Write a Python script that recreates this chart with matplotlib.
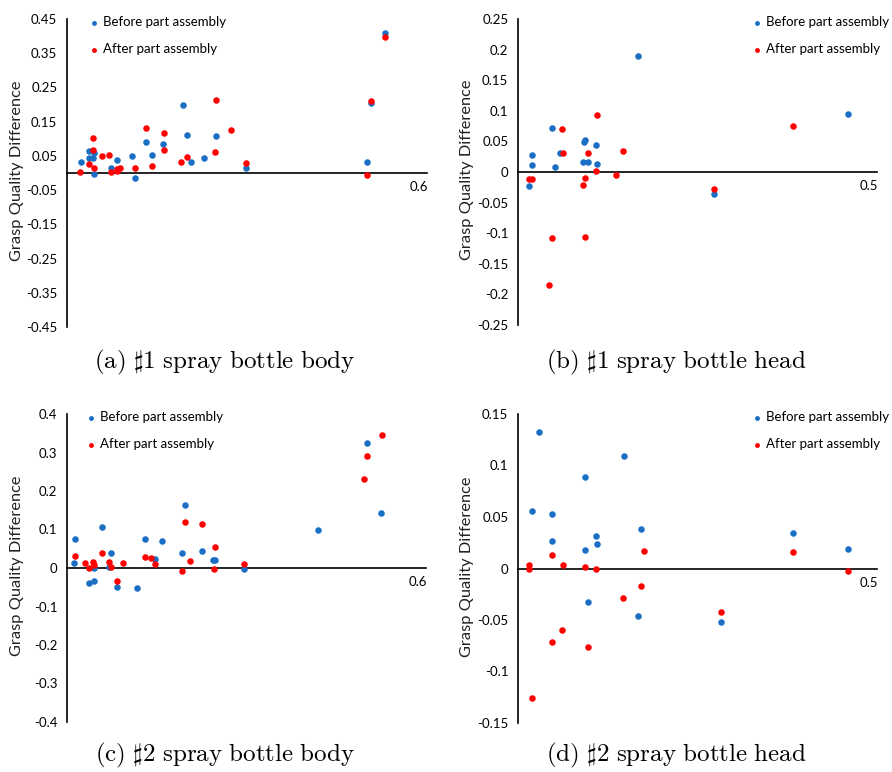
import matplotlib
matplotlib.use("Agg")
import matplotlib.pyplot as plt
import numpy as np

plt.rcParams['font.family'] = ['Lato', 'DejaVu Sans']
plt.rcParams['mathtext.fontset'] = 'cm'

BLUE = '#1a6fc4'
RED = '#ff0000'

# (a) #1 spray bottle body
a_before_x = [0.023, 0.037, 0.037, 0.044, 0.045, 0.045, 0.073, 0.084, 0.109, 0.114, 0.132, 0.142,
              0.160, 0.194, 0.200, 0.207, 0.228, 0.248, 0.298, 0.500, 0.507, 0.530]
a_before_y = [0.033, 0.063, 0.045, 0.045, 0.058, -0.003, 0.015, 0.039, 0.050, -0.014, 0.092, 0.052,
              0.084, 0.198, 0.111, 0.033, 0.045, 0.107, 0.015, 0.033, 0.205, 0.408]
a_after_x = [0.021, 0.036, 0.044, 0.044, 0.045, 0.058, 0.070, 0.073, 0.084, 0.084, 0.088, 0.114, 0.132,
             0.142, 0.161, 0.161, 0.190, 0.200, 0.247, 0.248, 0.273, 0.298, 0.500, 0.506, 0.530]
a_after_y = [0.004, 0.026, 0.103, 0.067, 0.014, 0.049, 0.052, 0.004, 0.012, 0.005, 0.015, 0.016, 0.132,
             0.020, 0.116, 0.066, 0.033, 0.046, 0.061, 0.213, 0.126, 0.030, -0.007, 0.211, 0.396]

# (b) #1 spray bottle head
b_before_x = [0.015, 0.019, 0.020, 0.047, 0.051, 0.059, 0.090, 0.092, 0.094, 0.097, 0.108, 0.110,
              0.167, 0.273, 0.460]
b_before_y = [-0.023, 0.012, 0.027, 0.072, 0.008, 0.031, 0.016, 0.049, 0.052, 0.016, 0.044, 0.013,
              0.189, -0.036, 0.095]
b_after_x = [0.015, 0.019, 0.043, 0.047, 0.061, 0.062, 0.090, 0.093, 0.094, 0.097, 0.108, 0.110,
             0.137, 0.146, 0.273, 0.383]
b_after_y = [-0.011, -0.011, -0.185, -0.108, 0.071, 0.031, -0.021, -0.010, -0.106, 0.031, 0.001, 0.093,
             -0.005, 0.035, -0.028, 0.075]

# (c) #2 spray bottle body
c_before_x = [0.011, 0.013, 0.036, 0.045, 0.045, 0.059, 0.071, 0.073, 0.084, 0.117, 0.131, 0.147,
              0.159, 0.193, 0.198, 0.226, 0.244, 0.247, 0.295, 0.420, 0.502, 0.525]
c_before_y = [0.014, 0.076, -0.040, -0.035, 0.000, 0.107, 0.002, 0.039, -0.049, -0.052, 0.076, 0.023,
              0.071, 0.038, 0.164, 0.044, 0.020, 0.020, -0.003, 0.098, 0.325, 0.143]
c_after_x = [0.013, 0.030, 0.037, 0.044, 0.045, 0.059, 0.070, 0.073, 0.084, 0.094, 0.131, 0.141,
             0.147, 0.193, 0.198, 0.205, 0.226, 0.245, 0.247, 0.295, 0.496, 0.502, 0.526]
c_after_y = [0.030, 0.014, 0.000, 0.016, 0.009, 0.038, 0.015, 0.002, -0.033, 0.012, 0.028, 0.025,
             0.011, -0.009, 0.120, 0.017, 0.115, -0.003, 0.055, 0.011, 0.232, 0.291, 0.345]

# (d) #2 spray bottle head
d_before_x = [0.020, 0.029, 0.047, 0.048, 0.093, 0.093, 0.097, 0.108, 0.110, 0.147, 0.167, 0.172,
              0.283, 0.383, 0.460]
d_before_y = [0.056, 0.133, 0.027, 0.053, 0.089, 0.018, -0.033, 0.032, 0.024, 0.109, -0.046, 0.038,
              -0.052, 0.034, 0.019]
d_after_x = [0.016, 0.016, 0.020, 0.047, 0.048, 0.061, 0.062, 0.093, 0.097, 0.108, 0.146, 0.172,
             0.176, 0.283, 0.383, 0.460]
d_after_y = [0.003, 0.000, -0.126, 0.013, -0.071, -0.060, 0.003, 0.001, -0.076, 0.000, -0.029, -0.017,
             0.017, -0.042, 0.016, -0.002]

captions = [r'$\mathrm{(a)\ \sharp 1\ spray\ bottle\ body}$',
            r'$\mathrm{(b)\ \sharp 1\ spray\ bottle\ head}$',
            r'$\mathrm{(c)\ \sharp 2\ spray\ bottle\ body}$',
            r'$\mathrm{(d)\ \sharp 2\ spray\ bottle\ head}$']

W, H = 892, 772
fig = plt.figure(figsize=(W / 100, H / 100), dpi=100)

# pixel boxes: left, right, top, bottom
boxes = [(67, 427, 19, 327), (518, 877, 19, 325), (67, 426, 414, 722), (518, 877, 414, 723)]
legend_dx = [24, 236, 21, 236]
ylabel_x = [24, 474, 24, 474]
caption_y = [362, 362, 755, 755]
xmaxes = [0.6, 0.5, 0.6, 0.5]
ylims = [0.45, 0.25, 0.4, 0.15]
series = [(a_before_x, a_before_y, a_after_x, a_after_y),
          (b_before_x, b_before_y, b_after_x, b_after_y),
          (c_before_x, c_before_y, c_after_x, c_after_y),
          (d_before_x, d_before_y, d_after_x, d_after_y)]

for i in range(4):
    l, r, t, b = boxes[i]
    ax = fig.add_axes([l / W, 1 - b / H, (r - l) / W, (b - t) / H])
    bx, by, axx, ayy = series[i]
    ax.scatter(bx, by, s=22, color=BLUE, label='Before part assembly', zorder=3, linewidths=0)
    ax.scatter(axx, ayy, s=22, color=RED, label='After part assembly', zorder=3, linewidths=0)
    ax.set_xlim(0, xmaxes[i])
    ax.set_ylim(-ylims[i], ylims[i])
    if i == 0:
        ticks = np.round(np.arange(-0.45, 0.451, 0.1), 2)
        labels = ['%.2f' % v for v in ticks]
    elif i == 2:
        ticks = np.round(np.arange(-0.4, 0.401, 0.1), 2)
        labels = ['0' if abs(v) < 1e-9 else '%.1f' % v for v in ticks]
    else:
        ticks = np.round(np.arange(-ylims[i], ylims[i] + 0.001, 0.05), 2)
        labels = ['0' if abs(v) < 1e-9 else ('%.2f' % v).rstrip('0') for v in ticks]
    ax.set_yticks(ticks)
    ax.set_yticklabels(labels)
    ax.set_xticks([])
    ax.tick_params(axis='y', length=0, pad=7, labelsize=9.5)
    ax.spines['top'].set_visible(False)
    ax.spines['right'].set_visible(False)
    ax.spines['bottom'].set_position(('data', 0))
    for s in ['left', 'bottom']:
        ax.spines[s].set_linewidth(1.2)
        ax.spines[s].set_color('black')
    ax.annotate('%.1f' % xmaxes[i], xy=(xmaxes[i], 0), xytext=(1, -6), textcoords='offset points',
                ha='right', va='top', fontsize=9.5)
    ax.set_ylabel('Grasp Quality Difference', fontsize=11.8, color='#222222')
    ax.yaxis.set_label_coords((ylabel_x[i] - l) / (r - l), 0.5 + 2 / (b - t))
    ax.legend(loc='upper left', bbox_to_anchor=((l + legend_dx[i]) / W, 1 - (t - 3) / H),
              bbox_transform=fig.transFigure, frameon=False, fontsize=9.5, handlelength=0.5,
              handletextpad=0.4, labelspacing=1.15, borderpad=0, borderaxespad=0, markerscale=0.75)
    fig.text((l + 158) / W, 1 - caption_y[i] / H, captions[i], ha='center', va='center', fontsize=18)

fig.savefig('out.png', dpi=100)
